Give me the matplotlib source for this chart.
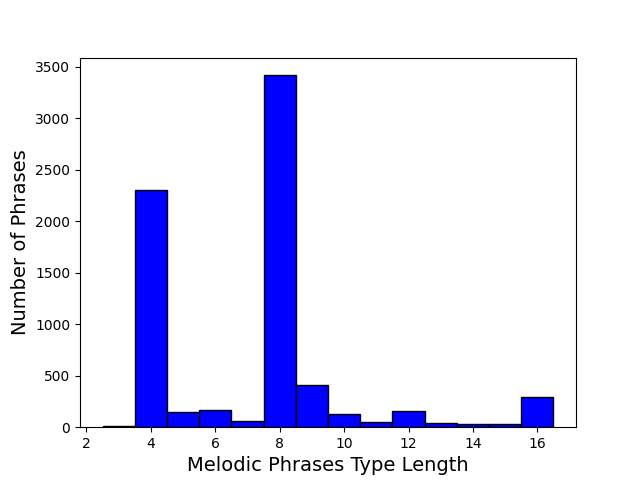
import matplotlib
matplotlib.use("Agg")
import matplotlib.pyplot as plt

# phrase length -> count
lengths = [3, 4, 5, 6, 7, 8, 9, 10, 11, 12, 13, 14, 15, 16]
counts = [8, 2300, 146, 165, 65, 3420, 408, 126, 46, 153, 36, 27, 27, 292]

fig, ax = plt.subplots(figsize=(6.4, 4.8), dpi=100)
ax.bar(lengths, counts, width=1.0, color="blue", edgecolor="black")
ax.set_xticks([2, 4, 6, 8, 10, 12, 14, 16])
ax.set_xlabel("Melodic Phrases Type Length", fontsize=14)
ax.set_ylabel("Number of Phrases", fontsize=14)
fig.savefig("out.png")
